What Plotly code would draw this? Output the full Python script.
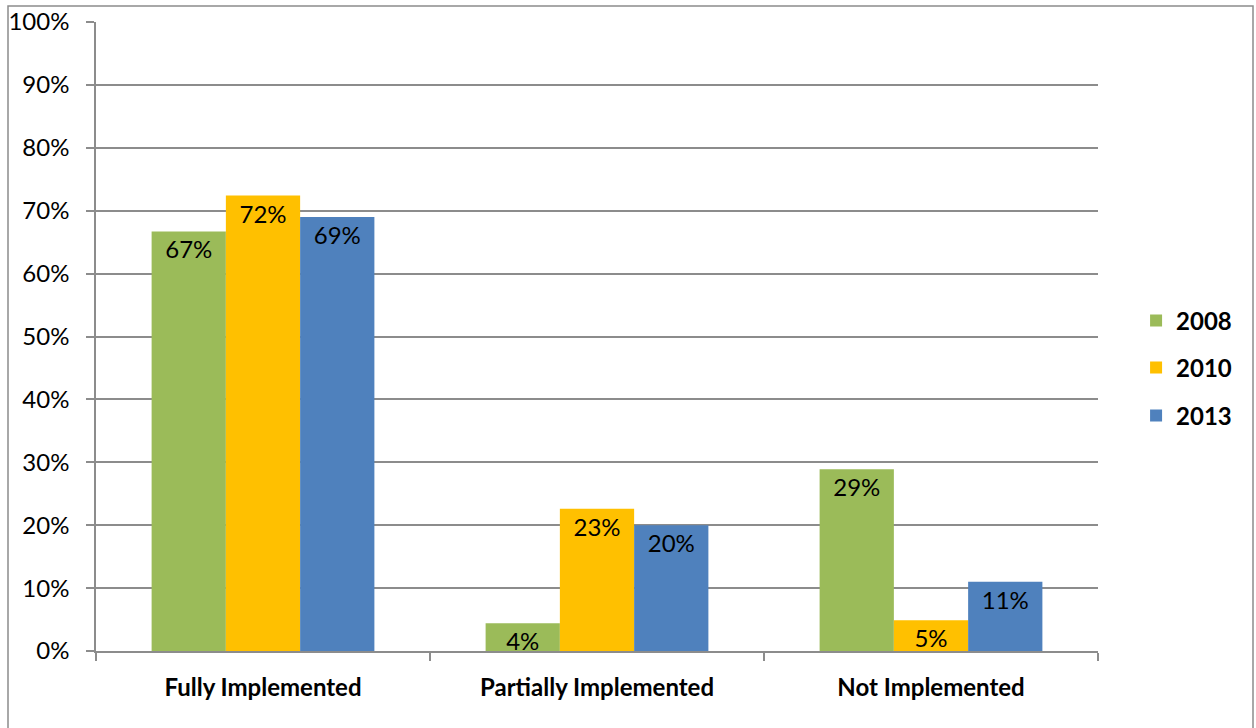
import plotly.graph_objects as go

categories = ["Fully Implemented", "Partially Implemented", "Not Implemented"]
years = ["2008", "2010", "2013"]
values_2008 = [0.667, 0.044, 0.289]
values_2010 = [0.724, 0.226, 0.049]
values_2013 = [0.690, 0.200, 0.110]
colors = ["#9BBB59", "#FFC000", "#4F81BD"]
y_ticks = [i / 10 for i in range(11)]

series = [values_2008, values_2010, values_2013]
legends = ["legend", "legend2", "legend3"]
FONT = "Lato, Open Sans, sans-serif"
FS = 24

fig = go.Figure()
for name, vals, col, lg in zip(years, series, colors, legends):
    fig.add_trace(go.Bar(
        x=categories, y=vals, name=name, marker=dict(color=col, line=dict(width=0)),
        texttemplate="%{y:.0%}", textposition="inside", insidetextanchor="end",
        textangle=0, textfont=dict(size=FS, color="black", family=FONT),
        legend=lg, hoverinfo="skip",
    ))

leg_common = dict(font=dict(size=FS, color="black", family=FONT, weight="bold"),
                  bgcolor="rgba(0,0,0,0)", xanchor="left", yanchor="middle", itemclick=False)
legend_y = [1 - (321 - 22) / 629, 1 - (368 - 22) / 629, 1 - (416 - 22) / 629]
layout_legends = {}
for lg, yy in zip(legends, legend_y):
    layout_legends[lg] = dict(x=1.038, y=yy, **leg_common)

fig.update_layout(
    width=1256, height=728,
    margin=dict(l=96, r=158, t=22, b=77, autoexpand=False),
    paper_bgcolor="white", plot_bgcolor="white",
    barmode="group", bargap=0.333, bargroupgap=0,
    uniformtext=dict(minsize=FS, mode="show"),
    font=dict(family=FONT, size=FS, color="black"),
    showlegend=True,
    **layout_legends,
)
fig.update_yaxes(
    range=[0, 1], tickvals=y_ticks, tickformat=".0%", automargin=False,
    showgrid=True, gridcolor="#8c8c8c", gridwidth=1.5,
    showline=True, linecolor="#8c8c8c", linewidth=1.5,
    ticks="outside", ticklen=8, tickcolor="#8c8c8c", tickwidth=1.5,
    ticklabelstandoff=12, zeroline=False,
    tickfont=dict(size=FS, family=FONT, color="black"),
)
fig.update_xaxes(
    showgrid=False, showline=True, linecolor="#8c8c8c", linewidth=1.5,
    ticks="outside", ticklen=8, tickcolor="#8c8c8c", tickwidth=1.5, automargin=False,
    tickson="boundaries", ticklabelstandoff=14,
    tickfont=dict(size=FS, family=FONT, color="black", weight="bold"),
)
fig.add_shape(type="rect", xref="paper", yref="paper",
              x0=(8 - 96) / 1002, x1=(1253 - 96) / 1002,
              y0=-0.2, y1=(651 - 6) / 629,
              line=dict(color="#8c8c8c", width=1.5), layer="below")
fig.write_html("out.html")
